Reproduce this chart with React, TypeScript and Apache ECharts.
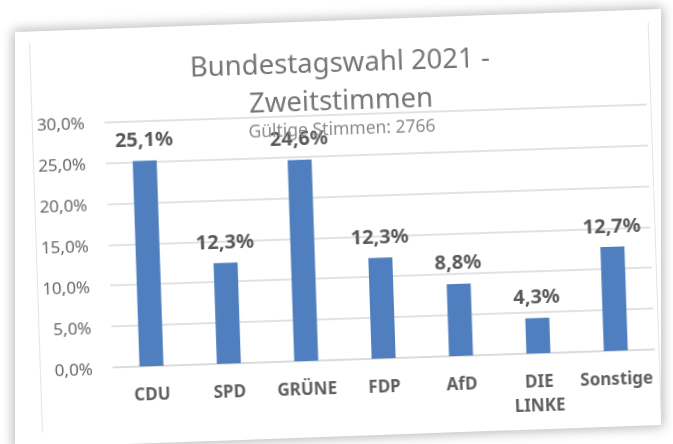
import React, { useEffect, useRef } from "react";
import * as echarts from "echarts";

const categories = ["CDU", "SPD", "GRÜNE", "FDP", "AfD", "DIE LINKE", "Sonstige"];
const shares = [25.1, 12.3, 24.6, 12.3, 8.8, 4.3, 12.7];
const titleText = "Bundestagswahl 2021 -\nZweitstimmen";
const subtitleText = "Gültige Stimmen: 2766";
const yMin = 0;
const yMax = 30;
const yStep = 5;

const FONT = "'Noto Sans', 'Open Sans', sans-serif";
const fmt = (v: number) => v.toFixed(1).replace(".", ",") + "%";

export default function App() {
  const ref = useRef<HTMLDivElement>(null);

  useEffect(() => {
    if (!ref.current) return;
    const chart = echarts.init(ref.current, null, { renderer: "svg" });
    chart.setOption({
      animation: false,
      backgroundColor: "transparent",
      title: [
        {
          text: titleText,
          left: "center",
          top: 9,
          padding: 0,
          textStyle: {
            fontFamily: FONT,
            fontSize: 27.5,
            fontWeight: "normal",
            color: "#767676",
            lineHeight: 38,
          },
        },
        {
          text: subtitleText,
          left: "center",
          top: 84,
          padding: 0,
          textStyle: {
            fontFamily: FONT,
            fontSize: 17.5,
            fontWeight: "normal",
            color: "#8c8c8c",
            lineHeight: 21,
          },
        },
      ],
      grid: { left: 73, right: 5, top: 81.5, bottom: 55.5, containLabel: false },
      xAxis: {
        type: "category",
        data: categories,
        axisLine: { lineStyle: { color: "#d9d9d9", width: 1.5 } },
        axisTick: { show: false },
        axisLabel: {
          interval: 0,
          margin: 15,
          fontFamily: FONT,
          fontSize: 17,
          fontWeight: "bold",
          color: "#5f5f5f",
          lineHeight: 24,
          formatter: (v: string) => v.replace(" ", "\n"),
        },
      },
      yAxis: {
        type: "value",
        min: yMin,
        max: yMax,
        interval: yStep,
        axisLine: { show: false },
        axisTick: { show: false },
        splitLine: { lineStyle: { color: "#d9d9d9", width: 1.5 } },
        axisLabel: {
          margin: 20,
          fontFamily: FONT,
          fontSize: 17,
          color: "#666666",
          formatter: (v: number) => fmt(v),
        },
      },
      series: [
        {
          type: "bar",
          data: shares,
          barWidth: 24,
          itemStyle: { color: "#4f7fbe" },
          label: {
            show: true,
            position: "top",
            distance: 12,
            fontFamily: FONT,
            fontSize: 20,
            fontWeight: "bold",
            color: "#595959",
            formatter: (p: any) => fmt(p.value),
          },
        },
      ],
    });
    return () => chart.dispose();
  }, []);

  return (
    <div
      style={{
        position: "fixed",
        left: 0,
        top: 0,
        width: 673,
        height: 444,
        overflow: "hidden",
        background: "#ffffff",
      }}
    >
      <div
        style={{
          position: "absolute",
          left: 15,
          top: 32,
          width: 646,
          height: 416,
          background: "#ffffff",
          transform: "skewY(-2.04deg)",
          transformOrigin: "0 0",
          boxShadow: "0 0 12px 2px rgba(0,0,0,0.28)",
        }}
      />
      <div
        style={{
          position: "absolute",
          left: 29,
          top: 43,
          width: 620,
          height: 390,
          transform: "rotate(-1.9deg)",
          transformOrigin: "0 0",
          filter: "blur(0.3px)",
        }}
      >
        <div
          style={{
            position: "absolute",
            left: 0,
            top: 0,
            width: 620,
            height: 390,
            boxSizing: "border-box",
            borderLeft: "1px solid #e4e4e4",
            borderRight: "1px solid #e4e4e4",
          }}
        />
        <div ref={ref} style={{ position: "absolute", left: 0, top: 0, width: 620, height: 390 }} />
      </div>
    </div>
  );
}
